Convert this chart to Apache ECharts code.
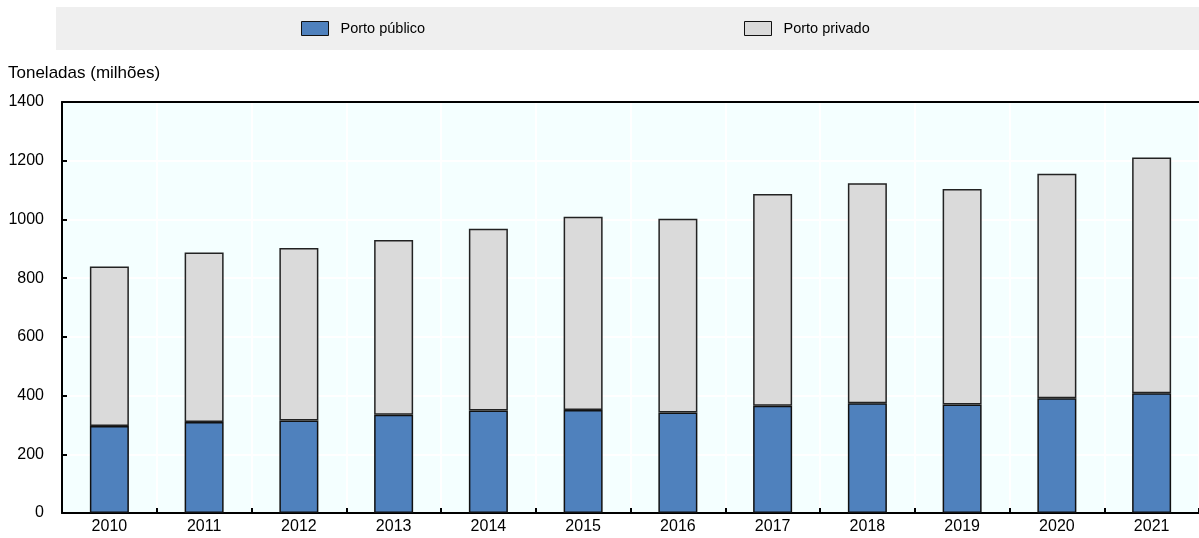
<!DOCTYPE html>
<html>
<head>
<meta charset="utf-8">
<script src="https://cdn.jsdelivr.net/npm/echarts@6/dist/echarts.min.js"></script>
<style>
  html, body { margin: 0; padding: 0; background: #fff; }
  #chart { width: 1199px; height: 538px; }
</style>
</head>
<body>
<div id="chart"></div>
<script>
const years = ['2010', '2011', '2012', '2013', '2014', '2015', '2016', '2017', '2018', '2019', '2020', '2021']
// toneladas (milhões)
const publico = [296, 310, 315, 335, 349, 351, 342, 365, 374, 370, 391, 408]
const total = [840, 887, 903, 930, 968, 1009, 1002, 1087, 1123, 1104, 1156, 1211]
const privado = total.map((t, i) => t - publico[i])
const yTicks = [0, 200, 400, 600, 800, 1000, 1200, 1400]

const font = '"Liberation Sans", Arial, sans-serif'

const myChart = echarts.init(document.getElementById('chart'))
const legendBase = {
  left: 301,
  top: 21,
  padding: 0,
  icon: 'rect',
  itemWidth: 27,
  itemHeight: 14,
  itemStyle: { borderColor: '#111', borderWidth: 1 },
  textStyle: { fontSize: 14.5, color: '#000', padding: [0, 0, 0, 7] }
}
const option = {
  animation: false,
  textStyle: { fontFamily: font },
  graphic: [
    {
      type: 'rect',
      shape: { x: 56, y: 7, width: 1143, height: 43 },
      style: { fill: '#efefef' },
      z: -10
    },
    {
      type: 'text',
      left: 8,
      top: 65,
      style: { text: 'Toneladas (milhões)', fontSize: 17, fill: '#000', fontFamily: font }
    }
  ],
  legend: [
    Object.assign({}, legendBase, { data: ['Porto público'], left: 301 }),
    Object.assign({}, legendBase, { data: ['Porto privado'], left: 744 })
  ],
  grid: {
    left: 62,
    top: 102,
    right: -10,
    bottom: 25,
    show: true,
    backgroundColor: '#f4ffff',
    borderWidth: 0
  },
  xAxis: [
    {
      type: 'category',
      data: years,
      axisLine: { lineStyle: { color: '#000', width: 2 } },
      axisTick: { show: true, inside: true, length: 5, lineStyle: { color: '#000', width: 2 } },
      axisLabel: { color: '#000', fontSize: 16, margin: 6 },
      splitLine: { show: true, lineStyle: { color: '#ffffff', width: 2 } }
    },
    {
      type: 'category',
      data: years,
      position: 'top',
      axisLine: { lineStyle: { color: '#000', width: 2 } },
      axisTick: { show: false },
      axisLabel: { show: false },
      splitLine: { show: false }
    }
  ],
  yAxis: {
    type: 'value',
    min: yTicks[0],
    max: yTicks[yTicks.length - 1],
    interval: 200,
    axisLine: { show: true, lineStyle: { color: '#000', width: 2 } },
    axisTick: { show: true, inside: true, length: 5, lineStyle: { color: '#000', width: 2 } },
    axisLabel: { color: '#000', fontSize: 16, margin: 18, formatter: (v) => String(v) },
    splitLine: { show: true, lineStyle: { color: '#ffffff', width: 2 } }
  },
  series: [
    {
      name: 'Porto público',
      type: 'bar',
      stack: 'total',
      barWidth: 39,
      data: publico,
      itemStyle: { color: '#4f81bd', borderColor: '#111', borderWidth: 1.5 }
    },
    {
      name: 'Porto privado',
      type: 'bar',
      stack: 'total',
      barWidth: 39,
      data: privado,
      itemStyle: { color: '#dadada', borderColor: '#222', borderWidth: 1.5 }
    }
  ]
}
myChart.setOption(option)
</script>
</body>
</html>
